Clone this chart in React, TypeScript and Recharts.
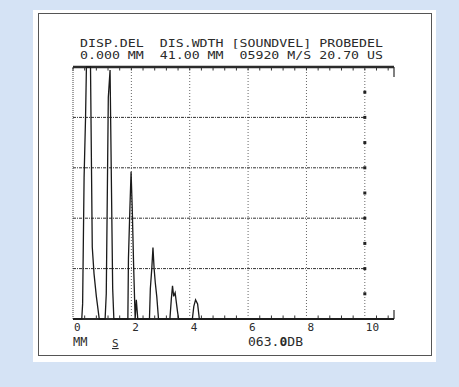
import React from "react";
import { LineChart, Line, XAxis, YAxis, ReferenceLine, ReferenceDot } from "recharts";

// A-scan trace (screen divisions along x, amplitude divisions along y)
const signalX = [0, 0.3, 0.33, 0.38, 0.43, 0.46, 0.6, 0.63, 0.66, 0.72, 0.8, 0.9,
  1.1, 1.14, 1.18, 1.21, 1.27, 1.31, 1.36, 1.4,
  1.88, 1.9, 1.95, 1.99, 2.03, 2.08, 2.13, 2.17, 2.22,
  2.62, 2.65, 2.7, 2.74, 2.78, 2.82, 2.87, 2.93,
  3.32, 3.37, 3.41, 3.45, 3.5, 3.58, 3.62,
  4.09, 4.14, 4.2, 4.27, 4.33, 11];
const signalY = [0, 0, 0.3, 2.8, 4.0, 5, 5, 3.2, 1.43, 0.9, 0.45, 0,
  0, 0.5, 2.7, 4.4, 4.94, 3.0, 0.6, 0,
  0, 1.2, 2.2, 2.92, 2.2, 1.0, 0, 0.38, 0,
  0, 0.6, 1.0, 1.42, 1.0, 0.72, 0.45, 0,
  0, 0.4, 0.66, 0.45, 0.52, 0.15, 0,
  0, 0.25, 0.38, 0.3, 0, 0];

const xTicks = [0, 2, 4, 6, 8, 10];
const xTickLabels = ["0", "2", "4", "6", "8", "10"];
const vGrid = [2, 4, 6, 8];
const hGrid = [1, 2, 3, 4];
const markers = [0.5, 1, 1.5, 2, 2.5, 3, 3.5, 4, 4.5];
const minorTicks = [0.4, 0.8, 1.2, 1.6, 2.4, 2.8, 3.2, 3.6, 4.4, 4.8, 5.2, 5.6, 6.4, 6.8, 7.2, 7.6, 8.4, 8.8, 9.2, 9.6, 10.4, 10.8];

const headerLine1 = "DISP.DEL  DIS.WDTH [SOUNDVEL] PROBEDEL";
const headerLine2 = "0.000 MM  41.00 MM  05920 M/S 20.70 US";
const unitLabel = "MM";
const modeLabel = "S";
const gainPre = "063.";
const gainMark = "0";
const gainPost = "DB";

const data = signalX.map((x, i) => ({ x, a: signalY[i] }));

const INK = "#2b2b2b";
const FONT = "'DejaVu Sans Mono', monospace";

const Tick = (props: any) => {
  const { x, y, payload } = props;
  const idx = xTicks.indexOf(payload.value);
  return (
    <text x={x + 1} y={y} dy={12} fontFamily={FONT} fontSize={11} fill={INK} textAnchor="start">
      {xTickLabels[idx]}
    </text>
  );
};

const Square = (p: any) => (
  <rect x={p.cx - 1.5} y={p.cy - 1.5} width={3} height={3} fill="#222" />
);

export default function App() {
  return (
    <div style={{ position: "fixed", left: 0, top: 0, width: 459, height: 387, background: "#d5e3f5" }}>
      <div style={{ position: "absolute", left: 33, top: 10, width: 403, height: 352, background: "#ffffff" }} />
      <div style={{ position: "absolute", left: 38, top: 13, width: 394, height: 343, border: "1.5px solid #555", boxSizing: "border-box" }} />
      <div style={{ position: "absolute", left: 0, top: 0 }}>
        <LineChart width={459} height={387} data={data} margin={{ top: 67, right: 65, left: 73, bottom: 48 }}>
          <XAxis dataKey="x" type="number" domain={[0, 11]} ticks={xTicks} interval={0}
            axisLine={false} tickLine={false} tickSize={0} tickMargin={0} height={20} tick={<Tick />} />
          <YAxis type="number" domain={[0, 5]} hide width={0} />
          {vGrid.map((v) => (
            <ReferenceLine key={"v" + v} segment={[{ x: v, y: 0 }, { x: v, y: 5 }]} stroke="#666" strokeWidth={1} strokeDasharray="1 2" />
          ))}
          <ReferenceLine segment={[{ x: 10, y: 0 }, { x: 10, y: 5 }]} stroke="#666" strokeWidth={1} strokeDasharray="1 2" />
          <ReferenceLine segment={[{ x: 0, y: 0 }, { x: 0, y: 5 }]} stroke="#444" strokeWidth={1} strokeDasharray="1 1" />
          {hGrid.map((v) => (
            <ReferenceLine key={"h" + v} segment={[{ x: 0, y: v }, { x: 10, y: v }]} stroke="#333" strokeWidth={1} strokeDasharray="3 1 1 1" />
          ))}
          {minorTicks.map((t) => (
            <ReferenceLine key={"tt" + t} segment={[{ x: t, y: 5 }, { x: t, y: 4.93 }]} stroke="#333" strokeWidth={1} />
          ))}
          {minorTicks.map((t) => (
            <ReferenceLine key={"bt" + t} segment={[{ x: t, y: 0 }, { x: t, y: 0.07 }]} stroke="#333" strokeWidth={1} />
          ))}
          {xTicks.map((t) => (
            <ReferenceLine key={"mt" + t} segment={[{ x: t, y: 5 }, { x: t, y: 4.93 }]} stroke="#333" strokeWidth={1} />
          ))}
          <ReferenceLine segment={[{ x: 0, y: 5 }, { x: 11, y: 5 }]} stroke={INK} strokeWidth={2.5} />
          <ReferenceLine segment={[{ x: 0, y: 0 }, { x: 11, y: 0 }]} stroke={INK} strokeWidth={2} />
          <ReferenceLine segment={[{ x: 11, y: 5 }, { x: 11, y: 4.8 }]} stroke={INK} strokeWidth={1.2} />
          <ReferenceLine segment={[{ x: 11, y: 0 }, { x: 11, y: 0.18 }]} stroke={INK} strokeWidth={1.2} />
          {markers.map((m) => (
            <ReferenceDot key={"m" + m} x={10} y={m} r={1.5} shape={Square} />
          ))}
          <Line dataKey="a" type="linear" dot={false} stroke="#1a1a1a" strokeWidth={1.3} isAnimationActive={false} />
        </LineChart>
      </div>
      <svg width={459} height={387} style={{ position: "absolute", left: 0, top: 0, pointerEvents: "none" }}>
        <text x={80} y={46.5} fontFamily={FONT} fontSize={10.8} fill={INK} textLength={303} lengthAdjust="spacingAndGlyphs" style={{ whiteSpace: "pre" }}>{headerLine1}</text>
        <text x={80} y={59} fontFamily={FONT} fontSize={10.8} fill={INK} textLength={303} lengthAdjust="spacingAndGlyphs" style={{ whiteSpace: "pre" }}>{headerLine2}</text>
        <text x={73} y={346} fontFamily={FONT} fontSize={12} fill={INK}>{unitLabel}</text>
        <text x={112} y={347} fontFamily={FONT} fontSize={11} fill={INK} textDecoration="underline">{modeLabel}</text>
        <text x={248} y={346} fontFamily={FONT} fontSize={12} fill={INK} textLength={55} lengthAdjust="spacingAndGlyphs">
          {gainPre}<tspan fontWeight="bold">{gainMark}</tspan>{gainPost}
        </text>
      </svg>
    </div>
  );
}
